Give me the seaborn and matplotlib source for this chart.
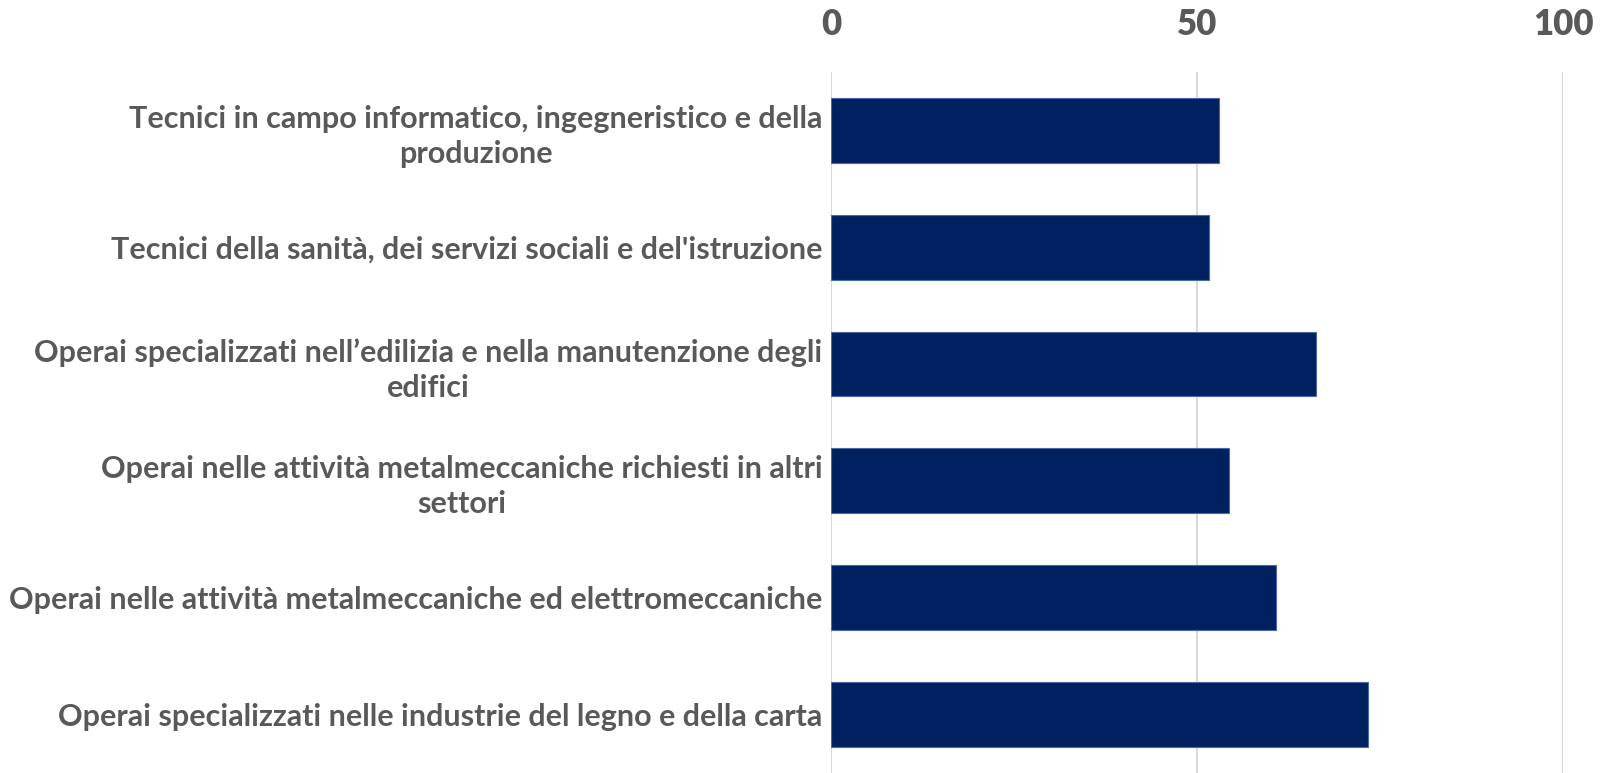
import matplotlib
matplotlib.use("Agg")
import matplotlib.pyplot as plt
import seaborn as sns

categorie = [
    "Tecnici in campo informatico, ingegneristico e della\nproduzione",
    "Tecnici della sanità, dei servizi sociali e del'istruzione",
    "Operai specializzati nell’edilizia e nella manutenzione degli\nedifici",
    "Operai nelle attività metalmeccaniche richiesti in altri\nsettori",
    "Operai nelle attività metalmeccaniche ed elettromeccaniche",
    "Operai specializzati nelle industrie del legno e della carta",
]
valori = [53.0, 51.6, 66.2, 54.4, 60.8, 73.3]
ticks = [0, 50, 100]

sns.set_style("white")
plt.rcParams['font.family'] = ['Lato', 'DejaVu Sans']
plt.rcParams['font.weight'] = 'bold'

testo = '#595959'
blu = '#002060'

fig = plt.figure(figsize=(16.08, 7.73), dpi=100)
ax = fig.add_axes([0.5168, 0.0, 0.9723 - 0.5168, 0.9069])

sns.barplot(x=valori, y=categorie, color=blu, width=0.555, orient='h',
            edgecolor='#4a6aa5', linewidth=0.8, saturation=1, ax=ax)

ax.set_xlim(0, 100)
ax.set_ylim(5.5, -0.5)
ax.set_xticks(ticks)
ax.xaxis.tick_top()
ax.set_xlabel('')
ax.set_ylabel('')
ax.grid(axis='x', color='#d9d9d9', linewidth=1.5)
ax.set_axisbelow(True)
for s in ax.spines.values():
    s.set_visible(False)

ax.tick_params(axis='x', length=0, pad=22, labelsize=25, labelcolor=testo)
ax.tick_params(axis='y', length=0, pad=6, labelsize=22, labelcolor=testo)
for t in ax.get_xticklabels():
    t.set_fontweight('heavy')
for t in ax.get_yticklabels():
    t.set_fontweight('bold')
    t.set_multialignment('center')
    t.set_linespacing(1.3)

fig.savefig('out.png', dpi=100)
